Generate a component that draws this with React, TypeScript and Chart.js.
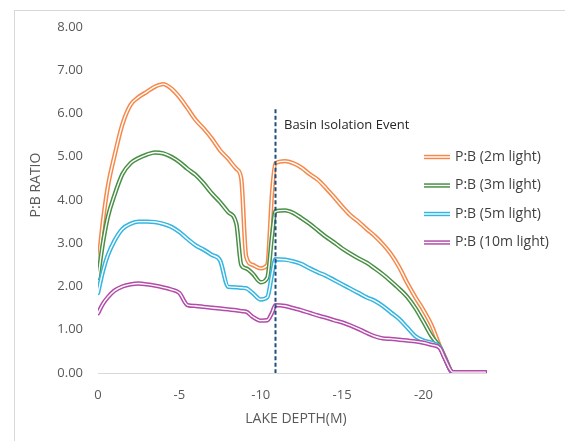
import React, { useEffect, useRef } from "react";
import { Chart, registerables } from "chart.js";

Chart.register(...registerables);

// Lake depth (m, negative = deeper)
const depths = [
  0, -0.3, -0.6, -1, -1.5, -2, -2.5, -3, -3.5, -4, -4.5, -5, -5.5, -6, -6.5, -7, -7.5, -8, -8.5,
  -8.8, -9.1, -9.5, -10, -10.4, -10.7, -10.9, -11.5,
  -12, -12.5, -13, -13.5, -14, -14.5, -15, -15.5, -16, -16.5, -17, -17.5, -18, -18.5, -19, -19.5,
  -20, -20.5, -21, -21.3, -21.8, -22.5, -23.8,
];

const pb2m = [
  2.45, 3.5, 4.3, 5.0, 5.75, 6.2, 6.38, 6.5, 6.62, 6.68, 6.58, 6.38, 6.12, 5.85, 5.65, 5.42, 5.15, 4.95, 4.72,
  4.5, 2.7, 2.5, 2.42, 2.5, 4.2, 4.85, 4.9,
  4.85, 4.75, 4.6, 4.47, 4.28, 4.07, 3.85, 3.65, 3.5, 3.33, 3.17, 2.98, 2.75, 2.45, 2.08, 1.75,
  1.45, 1.1, 0.62, 0.38, 0.02, 0.02, 0.02,
];

const pb3m = [
  2.2, 3.0, 3.6, 4.1, 4.6, 4.85, 4.97, 5.05, 5.1, 5.08, 5.0, 4.88, 4.72, 4.58, 4.38, 4.15, 3.95, 3.72, 3.45,
  2.5, 2.42, 2.3, 2.1, 2.2, 3.2, 3.74, 3.76,
  3.7, 3.58, 3.45, 3.3, 3.15, 3.02, 2.88, 2.76, 2.65, 2.55, 2.42, 2.28, 2.12, 1.95, 1.76, 1.5,
  1.18, 0.85, 0.6, 0.36, 0.02, 0.02, 0.02,
];

const pb5m = [
  1.85, 2.35, 2.72, 3.05, 3.33, 3.45, 3.5, 3.5, 3.49, 3.45, 3.38, 3.26, 3.1, 2.95, 2.85, 2.73, 2.6, 1.99, 1.98,
  1.97, 1.96, 1.85, 1.7, 1.75, 2.3, 2.63, 2.62,
  2.58, 2.52, 2.42, 2.33, 2.25, 2.15, 2.05, 1.95, 1.85, 1.75, 1.67, 1.55, 1.4, 1.25, 1.05, 0.85,
  0.75, 0.7, 0.6, 0.35, 0.02, 0.02, 0.02,
];

const pb10m = [
  1.38, 1.6, 1.75, 1.9, 2.0, 2.05, 2.07, 2.05, 2.02, 1.98, 1.93, 1.85, 1.57, 1.55, 1.53, 1.51, 1.49, 1.47, 1.45,
  1.43, 1.42, 1.3, 1.21, 1.22, 1.4, 1.57, 1.55,
  1.5, 1.45, 1.39, 1.33, 1.28, 1.22, 1.17, 1.1, 1.02, 0.93, 0.85, 0.8, 0.79, 0.77, 0.75, 0.73,
  0.7, 0.65, 0.58, 0.34, 0.02, 0.02, 0.02,
];

const seriesLabels = ["P:B (2m light)", "P:B (3m light)", "P:B (5m light)", "P:B (10m light)"];
const seriesColors = ["#F5894B", "#4A8F46", "#35B5E0", "#B24CA8"];
const xTickValues = [0, -5, -10, -15, -20];
const xMin = -23.9;
const yMax = 8;
const isolationDepth = -10.9;
const isolationTop = 6.1;
const isolationLabel = "Basin Isolation Event";
const xTitle = "LAKE DEPTH(M)";
const yTitle = "P:B RATIO";

const FONT = "'Open Sans', sans-serif";

export default function App() {
  const ref = useRef<HTMLCanvasElement>(null);

  useEffect(() => {
    const canvas = ref.current;
    if (!canvas) return;
    const allSeries = [pb2m, pb3m, pb5m, pb10m];

    const datasets: any[] = [];
    allSeries.forEach((vals, i) => {
      const data = depths.map((d, k) => ({ x: d, y: vals[k] }));
      const base = (3 - i) * 2; // later series on top
      datasets.push({
        label: seriesLabels[i],
        data,
        borderColor: seriesColors[i],
        borderWidth: 4.4,
        pointRadius: 0,
        tension: 0.4,
        cubicInterpolationMode: "monotone",
        borderJoinStyle: "round",
        borderCapStyle: "round",
        order: base + 1,
      });
      datasets.push({
        label: "_inner" + i,
        data,
        borderColor: "#ffffff",
        borderWidth: 1.4,
        pointRadius: 0,
        tension: 0.4,
        cubicInterpolationMode: "monotone",
        borderJoinStyle: "round",
        borderCapStyle: "round",
        order: base,
      });
    });

    const overlay = {
      id: "overlay",
      beforeDatasetsDraw(chart: any) {
        const { ctx, chartArea, scales } = chart;
        const y0 = scales.y.getPixelForValue(0);
        ctx.save();
        ctx.strokeStyle = "#d9d9d9";
        ctx.lineWidth = 1;
        ctx.beginPath();
        ctx.moveTo(chartArea.left, Math.round(y0) + 0.5);
        ctx.lineTo(chartArea.right, Math.round(y0) + 0.5);
        ctx.stroke();
        ctx.restore();
      },
      afterDatasetsDraw(chart: any) {
        const { ctx, scales } = chart;
        const xs = scales.x;
        const ys = scales.y;
        ctx.save();
        // isolation line
        const xp = Math.round(xs.getPixelForValue(isolationDepth)) + 0.5;
        ctx.strokeStyle = "#1F4E79";
        ctx.lineWidth = 2;
        ctx.setLineDash([4, 2.5]);
        ctx.beginPath();
        ctx.moveTo(xp, ys.getPixelForValue(isolationTop));
        ctx.lineTo(xp, ys.getPixelForValue(0));
        ctx.stroke();
        ctx.setLineDash([]);
        ctx.fillStyle = "#262626";
        ctx.font = `13px ${FONT}`;
        ctx.textBaseline = "middle";
        ctx.textAlign = "left";
        ctx.fillText(isolationLabel, xp + 8.5, 125);

        // legend
        for (let i = 0; i < seriesLabels.length; i++) {
          const ly = 157 + i * 28.5;
          ctx.strokeStyle = seriesColors[i];
          ctx.lineWidth = 4.4;
          ctx.beginPath();
          ctx.moveTo(424, ly);
          ctx.lineTo(450, ly);
          ctx.stroke();
          ctx.strokeStyle = "#ffffff";
          ctx.lineWidth = 1.4;
          ctx.beginPath();
          ctx.moveTo(424, ly);
          ctx.lineTo(450, ly);
          ctx.stroke();
          ctx.fillStyle = "#404040";
          ctx.font = `14px ${FONT}`;
          ctx.textAlign = "left";
          ctx.textBaseline = "middle";
          ctx.fillText(seriesLabels[i], 455, ly);
        }

        // axis titles
        ctx.fillStyle = "#595959";
        ctx.font = `14px ${FONT}`;
        ctx.textAlign = "center";
        ctx.textBaseline = "middle";
        ctx.fillText(xTitle, 296, 419);
        ctx.translate(36, 185);
        ctx.rotate(-Math.PI / 2);
        ctx.fillText(yTitle, 0, 0);
        ctx.restore();
      },
    };

    const chart = new Chart(canvas, {
      type: "line",
      data: { datasets },
      options: {
        animation: false,
        responsive: false,
        devicePixelRatio: 1,
        layout: { padding: { left: 0, right: 78, top: 27, bottom: 0 } },
        plugins: {
          legend: { display: false },
          tooltip: { enabled: false },
        },
        scales: {
          x: {
            type: "linear",
            reverse: true,
            min: xMin,
            max: 0,
            grid: { display: false, drawTicks: false },
            border: { display: false },
            afterBuildTicks: (scale: any) => {
              scale.ticks = xTickValues.map((v) => ({ value: v }));
            },
            afterFit: (scale: any) => {
              scale.height = 68;
            },
            ticks: {
              padding: 14,
              color: "#595959",
              font: { family: FONT, size: 13 },
              callback: (v: any) => String(v),
              maxRotation: 0,
            },
          },
          y: {
            type: "linear",
            min: 0,
            max: yMax,
            grid: { display: false, drawTicks: false },
            border: { display: false },
            afterFit: (scale: any) => {
              scale.width = 98;
            },
            ticks: {
              stepSize: 1,
              padding: 15,
              color: "#595959",
              font: { family: FONT, size: 13 },
              callback: (v: any) => Number(v).toFixed(2),
            },
          },
        },
      },
      plugins: [overlay],
    });
    return () => chart.destroy();
  }, []);

  return (
    <div
      style={{
        position: "absolute",
        left: 0,
        top: 0,
        width: 565,
        height: 441,
        overflow: "hidden",
        background: "#ffffff",
      }}
    >
      <div
        style={{
          position: "absolute",
          left: 14,
          top: 10,
          width: 620,
          height: 520,
          borderTop: "1px solid #d9d9d9",
          borderLeft: "1px solid #d9d9d9",
        }}
      />
      <canvas
        ref={ref}
        width={565}
        height={441}
        style={{ position: "absolute", left: 0, top: 0, width: 565, height: 441 }}
      />
    </div>
  );
}
